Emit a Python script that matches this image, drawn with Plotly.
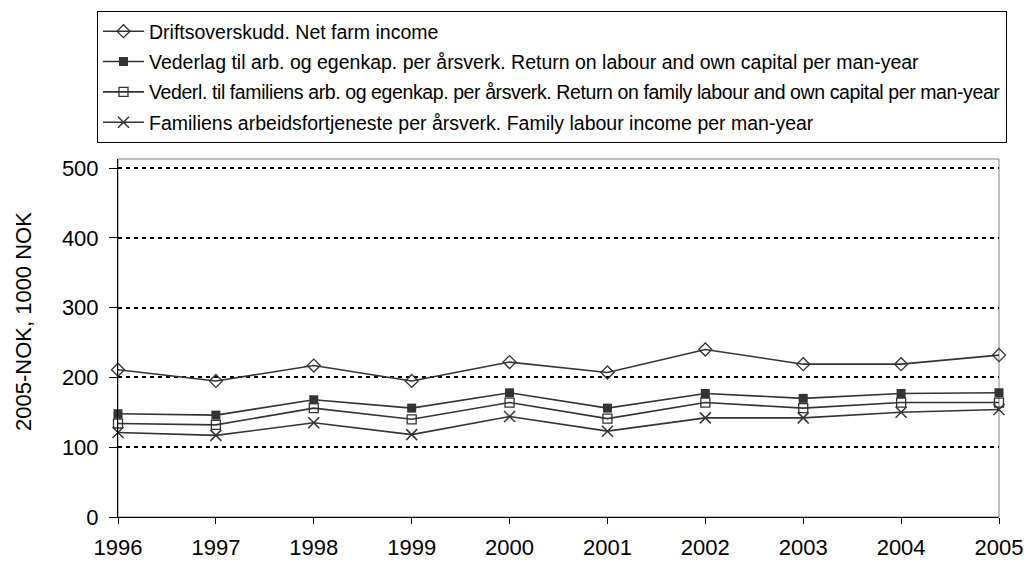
import plotly.graph_objects as go

years = [1996, 1997, 1998, 1999, 2000, 2001, 2002, 2003, 2004, 2005]
net_farm_income = [211, 195, 217, 195, 222, 207, 240, 219, 219, 232]
return_labour_capital = [148, 146, 168, 156, 178, 156, 177, 170, 177, 178]
return_family_labour_capital = [134, 132, 156, 140, 164, 141, 164, 156, 164, 164]
family_labour_income = [121, 117, 135, 118, 144, 123, 142, 142, 150, 154]

names = [
    "Driftsoverskudd. Net farm income",
    "Vederlag til arb. og egenkap. per årsverk. Return on labour and own capital per man-year",
    '<span style="letter-spacing:-0.4px">Vederl. til familiens arb. og egenkap. per årsverk. Return on family labour and own capital per man-year</span>',
    "Familiens arbeidsfortjeneste per årsverk. Family labour income per man-year",
]
y_ticks = [0, 100, 200, 300, 400, 500]

LINE = "#333333"
FONT = "Liberation Sans, Arial, sans-serif"

series = [
    (net_farm_income, dict(symbol="diamond-open", size=10, color=LINE, line=dict(width=1.3, color=LINE))),
    (return_labour_capital, dict(symbol="square", size=9, color=LINE, line=dict(width=0, color=LINE))),
    (return_family_labour_capital, dict(symbol="square-open", size=9, color=LINE, line=dict(width=1.3, color=LINE))),
    (family_labour_income, dict(symbol="x-thin-open", size=11, color=LINE, line=dict(width=1.5, color=LINE))),
]

fig = go.Figure()
for i, (vals, mk) in enumerate(series):
    fig.add_trace(go.Scatter(
        x=years, y=vals, name=names[i], mode="lines+markers",
        line=dict(color=LINE, width=1.6), marker=mk,
        legendgroup=f"g{i}", cliponaxis=False,
    ))

fig.update_layout(
    width=1029, height=563,
    margin=dict(l=118, r=30, t=159, b=46, autoexpand=False),
    paper_bgcolor="white", plot_bgcolor="white",
    font=dict(family=FONT, color="black"),
    showlegend=True,
    legend=dict(
        x=(97 - 118) / 881, xanchor="left", y=(517 - 11) / 358, yanchor="top",
        bordercolor="black", borderwidth=1, bgcolor="white",
        font=dict(size=19.5, family=FONT, color="black"),
        traceorder="grouped", tracegroupgap=2, itemwidth=41,
    ),
    xaxis=dict(
        range=[1996, 2005], tickvals=years, ticktext=[str(y) for y in years],
        showgrid=False, zeroline=False, showline=True, linecolor="black", linewidth=1,
        ticks="outside", ticklen=6, tickcolor="black", ticklabelstandoff=5,
        tickfont=dict(size=22, family=FONT, color="black"),
    ),
    yaxis=dict(
        range=[0, 513], tickvals=y_ticks,
        showgrid=True, gridcolor="black", gridwidth=2, griddash="4px,4px",
        zeroline=False, showline=True, linecolor="black", linewidth=1,
        ticks="outside", ticklen=8, tickcolor="black", ticklabelstandoff=6,
        tickfont=dict(size=22, family=FONT, color="black"),
    ),
    shapes=[dict(type="rect", xref="paper", yref="paper", x0=0, x1=1, y0=0, y1=1,
                 line=dict(color="#808080", width=1), layer="below")],
    annotations=[dict(text="2005-NOK, 1000 NOK", xref="paper", yref="paper",
                      x=(23 - 118) / 881, y=(517 - 322) / 358, textangle=-90,
                      showarrow=False, xanchor="center", yanchor="middle",
                      font=dict(size=22, family=FONT, color="black"))],
)

fig.write_html("out.html", config={"displayModeBar": False},
               post_script="document.body.style.margin='0';")
